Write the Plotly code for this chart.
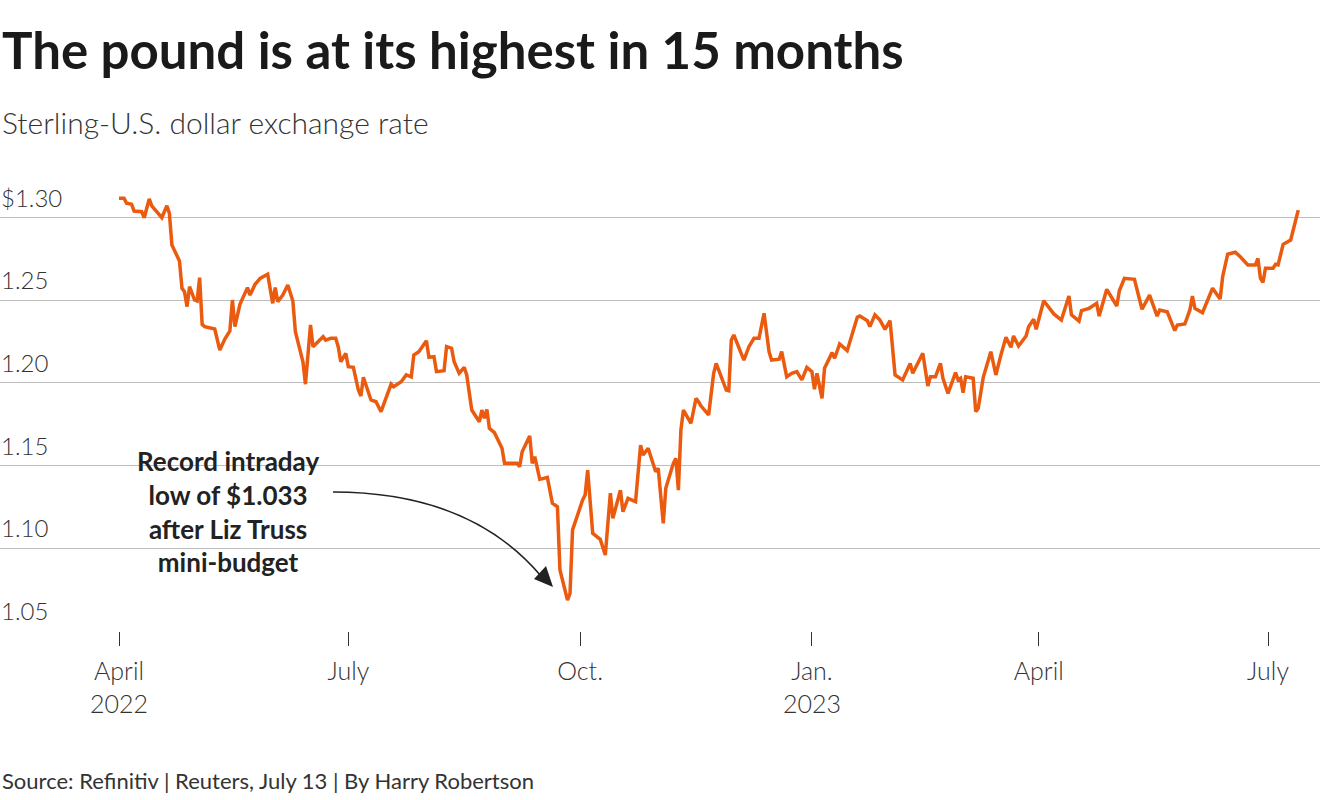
import pandas as pd
import plotly.graph_objects as go

# ---------------- data ----------------
dates = [
    "2022-04-01", "2022-04-03", "2022-04-04", "2022-04-06", "2022-04-07", "2022-04-10", "2022-04-11",
    "2022-04-13", "2022-04-14", "2022-04-18", "2022-04-20", "2022-04-21", "2022-04-22", "2022-04-25",
    "2022-04-26", "2022-04-27", "2022-04-28", "2022-04-29", "2022-05-01", "2022-05-02", "2022-05-03",
    "2022-05-04", "2022-05-05", "2022-05-09", "2022-05-11", "2022-05-13", "2022-05-15", "2022-05-16",
    "2022-05-17", "2022-05-19", "2022-05-22", "2022-05-23", "2022-05-25", "2022-05-27", "2022-05-30",
    "2022-06-01", "2022-06-02", "2022-06-03", "2022-06-05", "2022-06-07", "2022-06-09", "2022-06-10",
    "2022-06-13", "2022-06-14", "2022-06-16", "2022-06-17", "2022-06-21", "2022-06-22", "2022-06-24",
    "2022-06-26", "2022-06-27", "2022-06-28", "2022-06-30", "2022-07-01", "2022-07-03", "2022-07-05",
    "2022-07-06", "2022-07-07", "2022-07-10", "2022-07-12", "2022-07-14", "2022-07-18", "2022-07-19",
    "2022-07-22", "2022-07-24", "2022-07-26", "2022-07-27", "2022-07-29", "2022-08-01", "2022-08-02",
    "2022-08-04", "2022-08-05", "2022-08-08", "2022-08-09", "2022-08-11", "2022-08-12", "2022-08-14",
    "2022-08-16", "2022-08-17", "2022-08-19", "2022-08-22", "2022-08-23", "2022-08-24", "2022-08-25",
    "2022-08-26", "2022-08-28", "2022-08-31", "2022-09-01", "2022-09-06", "2022-09-07", "2022-09-08",
    "2022-09-11", "2022-09-12", "2022-09-13", "2022-09-15", "2022-09-18", "2022-09-20", "2022-09-22",
    "2022-09-23", "2022-09-26", "2022-09-27", "2022-09-28", "2022-10-02", "2022-10-03", "2022-10-04",
    "2022-10-06", "2022-10-09", "2022-10-11", "2022-10-13", "2022-10-14", "2022-10-17", "2022-10-18",
    "2022-10-20", "2022-10-23", "2022-10-25", "2022-10-26", "2022-10-28", "2022-10-31", "2022-11-01",
    "2022-11-03", "2022-11-04", "2022-11-07", "2022-11-08", "2022-11-09", "2022-11-10", "2022-11-11",
    "2022-11-14", "2022-11-16", "2022-11-17", "2022-11-18", "2022-11-21", "2022-11-23", "2022-11-24",
    "2022-11-28", "2022-11-29", "2022-11-30", "2022-12-01", "2022-12-05", "2022-12-07", "2022-12-09",
    "2022-12-11", "2022-12-13", "2022-12-15", "2022-12-16", "2022-12-19", "2022-12-20", "2022-12-22",
    "2022-12-24", "2022-12-26", "2022-12-28", "2022-12-30", "2023-01-01", "2023-01-02", "2023-01-03",
    "2023-01-05", "2023-01-06", "2023-01-09", "2023-01-10", "2023-01-12", "2023-01-15", "2023-01-19",
    "2023-01-20", "2023-01-23", "2023-01-24", "2023-01-26", "2023-01-28", "2023-01-30", "2023-02-01",
    "2023-02-03", "2023-02-06", "2023-02-09", "2023-02-10", "2023-02-14", "2023-02-16", "2023-02-17",
    "2023-02-19", "2023-02-21", "2023-02-22", "2023-02-24", "2023-02-27", "2023-02-28", "2023-03-01",
    "2023-03-02", "2023-03-03", "2023-03-06", "2023-03-07", "2023-03-08", "2023-03-10", "2023-03-13",
    "2023-03-15", "2023-03-17", "2023-03-19", "2023-03-21", "2023-03-22", "2023-03-24", "2023-03-27",
    "2023-03-28", "2023-03-30", "2023-03-31", "2023-04-03", "2023-04-07", "2023-04-10", "2023-04-13",
    "2023-04-14", "2023-04-17", "2023-04-18", "2023-04-21", "2023-04-24", "2023-04-25", "2023-04-28",
    "2023-05-02", "2023-05-03", "2023-05-05", "2023-05-09", "2023-05-12", "2023-05-15", "2023-05-18",
    "2023-05-19", "2023-05-22", "2023-05-25", "2023-05-26", "2023-05-29", "2023-05-31", "2023-06-01",
    "2023-06-02", "2023-06-05", "2023-06-09", "2023-06-12", "2023-06-13", "2023-06-15", "2023-06-18",
    "2023-06-20", "2023-06-23", "2023-06-26", "2023-06-27", "2023-06-28", "2023-06-29", "2023-06-30",
    "2023-07-03", "2023-07-04", "2023-07-05", "2023-07-07", "2023-07-10", "2023-07-13",
]

gbp_usd = [
    1.3116, 1.3116, 1.3086, 1.3080, 1.3039, 1.3035, 1.2999,
    1.3112, 1.3071, 1.2999, 1.3071, 1.3025, 1.2834, 1.2737,
    1.2572, 1.2551, 1.2461, 1.2582, 1.2501, 1.2495, 1.2636,
    1.2354, 1.2340, 1.2326, 1.2199, 1.2265, 1.2314, 1.2501,
    1.2340, 1.2475, 1.2576, 1.2531, 1.2596, 1.2632, 1.2657,
    1.2481, 1.2576, 1.2491, 1.2531, 1.2592, 1.2495, 1.2310,
    1.2128, 1.1992, 1.2350, 1.2219, 1.2279, 1.2259, 1.2270,
    1.2270, 1.2219, 1.2128, 1.2179, 1.2098, 1.2094, 1.1957,
    1.1921, 1.2034, 1.1897, 1.1886, 1.1826, 1.1993, 1.1977,
    1.2007, 1.2048, 1.2037, 1.2169, 1.2189, 1.2255, 1.2155,
    1.2158, 1.2068, 1.2074, 1.2219, 1.2209, 1.2128, 1.2058,
    1.2094, 1.2048, 1.1836, 1.1765, 1.1836, 1.1786, 1.1840,
    1.1725, 1.1699, 1.1605, 1.1514, 1.1514, 1.1493, 1.1584,
    1.1679, 1.1514, 1.1554, 1.1417, 1.1429, 1.1272, 1.1251,
    1.0869, 1.0687, 1.0728, 1.1111, 1.1292, 1.1322, 1.1473,
    1.1091, 1.1054, 1.0959, 1.1333, 1.1181, 1.1352, 1.1221,
    1.1302, 1.1282, 1.1624, 1.1564, 1.1605, 1.1463, 1.1484,
    1.1151, 1.1363, 1.1514, 1.1544, 1.1352, 1.1715, 1.1836,
    1.1756, 1.1907, 1.1886, 1.1860, 1.1806, 1.2058, 1.2118,
    1.1957, 1.1953, 1.2259, 1.2290, 1.2138, 1.2219, 1.2270,
    1.2270, 1.2421, 1.2187, 1.2138, 1.2143, 1.2189, 1.2037,
    1.2058, 1.2068, 1.2018, 1.2094, 1.2068, 1.1961, 1.2058,
    1.1907, 1.2088, 1.2183, 1.2149, 1.2235, 1.2195, 1.2397,
    1.2404, 1.2376, 1.2340, 1.2411, 1.2380, 1.2324, 1.2376,
    1.2048, 1.2018, 1.2118, 1.2058, 1.2179, 1.1981, 1.2037,
    1.2037, 1.2118, 1.2028, 1.1937, 1.2062, 1.2018, 1.2028,
    1.1941, 1.2037, 1.2028, 1.1826, 1.1846, 1.2034, 1.2189,
    1.2048, 1.2169, 1.2276, 1.2215, 1.2284, 1.2223, 1.2284,
    1.2340, 1.2385, 1.2324, 1.2497, 1.2417, 1.2380, 1.2525,
    1.2411, 1.2374, 1.2437, 1.2451, 1.2481, 1.2404, 1.2566,
    1.2465, 1.2557, 1.2632, 1.2626, 1.2445, 1.2531, 1.2404,
    1.2441, 1.2430, 1.2316, 1.2350, 1.2356, 1.2441, 1.2525,
    1.2451, 1.2424, 1.2572, 1.2507, 1.2642, 1.2778, 1.2790,
    1.2763, 1.2713, 1.2713, 1.2753, 1.2632, 1.2608, 1.2693,
    1.2693, 1.2717, 1.2713, 1.2838, 1.2864, 1.3045,
]

y_ticks = [1.05, 1.10, 1.15, 1.20, 1.25, 1.30]
y_tick_labels = ["1.05", "1.10", "1.15", "1.20", "1.25", "$1.30"]

x_ticks = ["2022-04-01", "2022-07-01", "2022-10-01", "2023-01-01", "2023-04-01", "2023-07-01"]
x_tick_labels = ["April<br>2022", "July", "Oct.", "Jan.<br>2023", "April", "July"]

title = "The pound is at its highest in 15 months"
subtitle = "Sterling-U.S. dollar exchange rate"
source = "Source: Refinitiv | Reuters, July 13 | By Harry Robertson"
note = "Record intraday<br>low of $1.033<br>after Liz Truss<br>mini-budget"

# ---------------- layout constants ----------------
W, H = 1320, 800
PLOT_TOP, PLOT_BOTTOM = 180, 631
X_APRIL, X_JULY23 = 119, 1268
px_per_day = (X_JULY23 - X_APRIL) / (pd.Timestamp("2023-07-01") - pd.Timestamp("2022-04-01")).days
x_start = pd.Timestamp("2022-04-01") - pd.Timedelta(days=X_APRIL / px_per_day)
x_end = x_start + pd.Timedelta(days=W / px_per_day)

y_low = 1.05
px_per_unit = (PLOT_BOTTOM - 217.5) / (1.30 - 1.05)
y_high = y_low + (PLOT_BOTTOM - PLOT_TOP) / px_per_unit

FONT = "Lato"
ORANGE = "#ea5b0f"


def P(X, Y):
    return f"{X / W:.5f},{(PLOT_BOTTOM - Y) / (PLOT_BOTTOM - PLOT_TOP):.5f}"


def ann_px(X, Y, text, size, color, weight=400, xanchor="left", align="left"):
    return dict(
        x=X / W, xref="paper", y=(PLOT_BOTTOM - Y) / (PLOT_BOTTOM - PLOT_TOP), yref="paper",
        text=text, showarrow=False, xanchor=xanchor, yanchor="middle", align=align,
        font=dict(family=FONT, size=size, color=color, weight=weight),
    )


fig = go.Figure()
fig.add_trace(go.Scatter(
    x=pd.to_datetime(dates), y=gbp_usd, mode="lines",
    line=dict(color=ORANGE, width=3.5), hoverinfo="skip", showlegend=False,
))

annotations = []
for v, lab in zip(y_ticks, y_tick_labels):
    annotations.append(dict(
        x=0, xref="paper", y=v, yref="y", text=lab, showarrow=False,
        xanchor="left", yanchor="bottom", yshift=5, borderpad=0,
        font=dict(family=FONT, size=24, color="#333333", weight=300),
    ))

annotations.append(ann_px(0, 50, title, 51, "#1a1a1a", 700))
annotations.append(ann_px(0, 122, subtitle, 30, "#333333", 300))
annotations.append(ann_px(0, 780, source, 22, "#333333", 400))
annotations.append(ann_px(228, 511, note, 26, "#222222", 700, xanchor="center", align="center"))

shapes = [
    dict(type="path", xref="paper", yref="paper",
         path=f"M {P(333, 492)} Q {P(470, 492)} {P(541, 576)}",
         line=dict(color="#222222", width=1.6)),
    dict(type="path", xref="paper", yref="paper",
         path=f"M {P(553, 587)} L {P(534, 579)} L {P(546, 566)} Z",
         fillcolor="#222222", line=dict(width=0)),
]

fig.update_layout(
    width=W, height=H,
    margin=dict(l=0, r=0, t=PLOT_TOP, b=H - PLOT_BOTTOM, pad=0),
    paper_bgcolor="white", plot_bgcolor="white",
    font=dict(family=FONT, color="#333333"),
    annotations=annotations, shapes=shapes,
    xaxis=dict(
        type="date", range=[x_start, x_end], showgrid=False, zeroline=False, showline=False,
        tickmode="array", tickvals=pd.to_datetime(x_ticks), ticktext=x_tick_labels,
        ticks="outside", ticklen=14, tickwidth=1, tickcolor="#333333",
        ticklabelstandoff=4,
        tickfont=dict(family=FONT, size=25, color="#333333", weight=300),
        fixedrange=True,
    ),
    yaxis=dict(
        range=[y_low, y_high], tickmode="array", tickvals=y_ticks, showticklabels=False,
        showgrid=True, gridcolor="#bdbdbd", gridwidth=1, zeroline=False, showline=False,
        fixedrange=True,
    ),
)

fig.write_html("out.html", include_plotlyjs=True, config={"displayModeBar": False})
